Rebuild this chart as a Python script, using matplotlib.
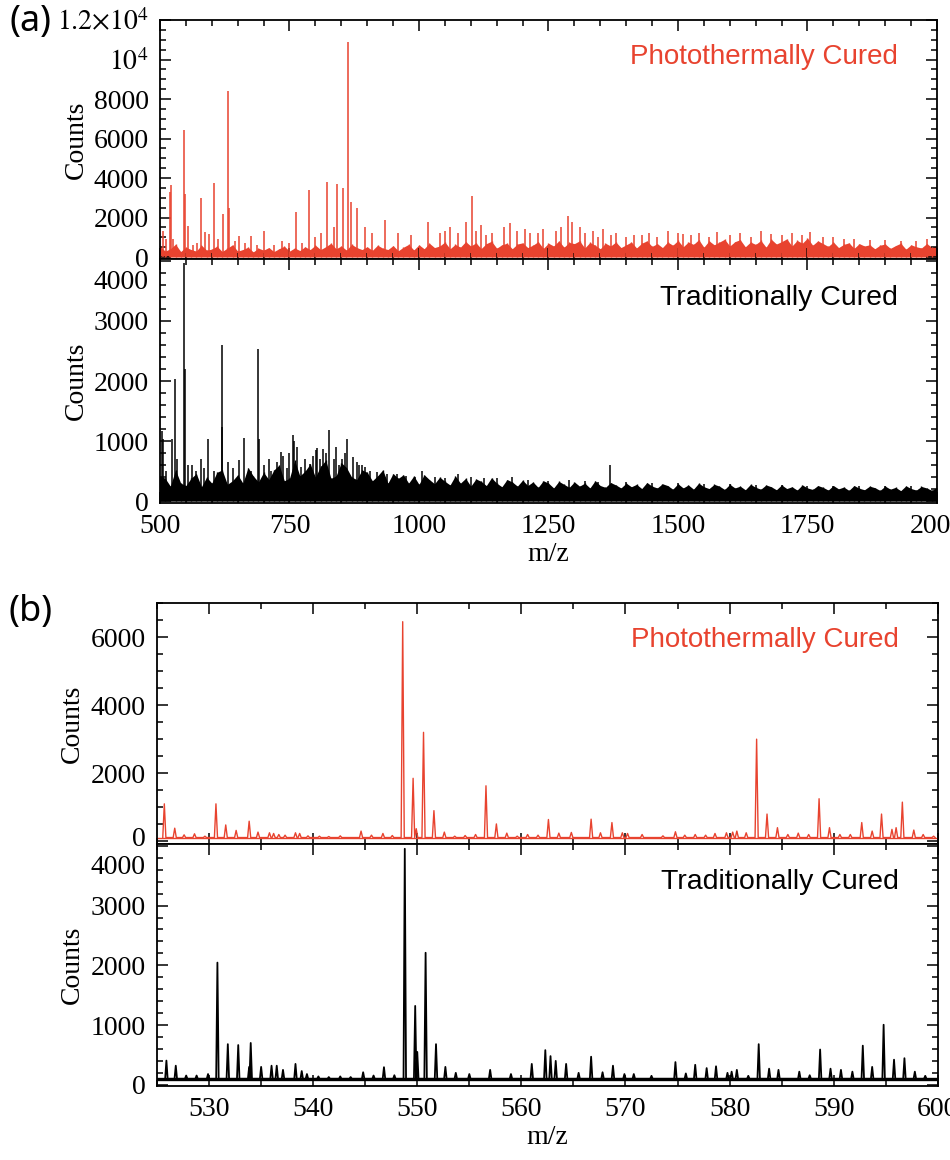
import numpy as np
import matplotlib
matplotlib.use("Agg")
import matplotlib.pyplot as plt
from matplotlib.ticker import MultipleLocator, FixedLocator, FixedFormatter
from matplotlib.transforms import ScaledTranslation

plt.rcParams['font.family'] = ['Liberation Serif', 'DejaVu Serif']
plt.rcParams['mathtext.fontset'] = 'stix'

RED = '#e8432f'

# ---- panel (a): full range, grass envelope every 10 m/z + main peaks ----
env_mz = list(range(500, 2001, 10))
env_red = [550, 300, 420, 650, 280, 500, 380, 300, 600, 350,
           400, 550, 280, 450, 620, 300, 380, 500, 260, 450,
           350, 480, 280, 420, 550, 300, 460, 330, 520, 380,
           600, 380, 520, 700, 420, 560, 350, 640, 480, 380,
           520, 340, 600, 450, 380, 580, 320, 500, 640, 360,
           620, 420, 700, 480, 560, 760, 420, 640, 500, 780,
           560, 720, 430, 680, 800, 450, 620, 700, 420, 660,
           720, 480, 600, 780, 440, 700, 560, 820, 500, 740,
           680, 820, 460, 740, 600, 420, 700, 560, 760, 480,
           620, 760, 460, 700, 820, 540, 680, 480, 760, 600,
           840, 520, 760, 640, 880, 500, 820, 620, 760, 900,
           560, 780, 880, 520, 760, 640, 840, 500, 900, 660,
           780, 920, 560, 840, 700, 960, 600, 820, 680, 540,
           760, 480, 640, 720, 440, 680, 560, 620, 420, 600,
           660, 440, 580, 700, 400, 620, 520, 460, 680, 500,
           560]
env_black = [420, 380, 250, 520, 300, 260, 380, 460, 240, 400,
             300, 480, 520, 280, 340, 440, 300, 560, 420, 320,
             480, 360, 520, 600, 340, 380, 680, 420, 500, 620,
             400, 580, 680, 380, 420, 640, 560, 400, 360, 520,
             480, 340, 420, 520, 300, 460, 380, 440, 300, 420,
             280, 440, 360, 290, 400, 330, 270, 420, 300, 380,
             250, 370, 330, 260, 390, 300, 240, 360, 320, 250,
             350, 260, 320, 230, 340, 300, 220, 330, 280, 230,
             320, 250, 300, 220, 340, 260, 230, 310, 270, 220,
             300, 240, 280, 210, 310, 250, 220, 290, 260, 200,
             290, 220, 270, 200, 300, 240, 210, 280, 250, 195,
             280, 220, 250, 190, 280, 230, 200, 270, 240, 190,
             270, 210, 240, 185, 270, 220, 195, 260, 230, 185,
             260, 205, 235, 180, 260, 215, 190, 250, 225, 180,
             250, 200, 230, 175, 255, 210, 185, 245, 220, 180,
             230]

pk_red_a_mz = [506, 512, 520, 522, 526, 547, 548.5, 555, 564, 572, 580, 587, 595,
               605, 612, 621, 631, 632.5, 645, 653, 665, 675, 688, 701, 720, 735,
               749, 762, 775, 788, 799, 810, 822, 835, 842, 853, 863, 868, 880,
               895, 910, 934, 960, 985, 1017, 1040, 1050, 1060, 1075, 1090, 1102,
               1110, 1120, 1130, 1140, 1165, 1175, 1190, 1205, 1215, 1230, 1240,
               1265, 1275, 1288, 1296, 1310, 1320, 1335, 1345, 1355, 1370, 1380,
               1400, 1415, 1430, 1445, 1460, 1480, 1500, 1510, 1525, 1540, 1560,
               1575, 1600, 1620, 1640, 1660, 1680, 1700, 1720, 1740, 1755, 1780,
               1800, 1820, 1840, 1870, 1900, 1930, 1960, 1980]
pk_red_a_h = [1300, 900, 3300, 3650, 900, 6450, 3200, 1550, 600, 700, 3000, 1250, 1150,
              3750, 900, 2200, 8400, 2500, 800, 1050, 700, 1050, 600, 1300, 600, 800,
              700, 2300, 700, 3400, 1000, 1200, 3800, 1500, 3700, 3500, 10900, 2800, 2500,
              1500, 1200, 1900, 1200, 1100, 1800, 1200, 1300, 1500, 1200, 1800, 3100,
              1300, 1600, 1100, 1200, 1500, 1700, 1300, 1400, 1200, 1200, 1400,
              1300, 1500, 2100, 1800, 1500, 1200, 1300, 1000, 1400, 1100, 1200,
              1000, 1100, 1100, 1200, 1000, 1300, 1200, 1150, 1100, 1200, 1000,
              1250, 1100, 1200, 1000, 1300, 1150, 1100, 1200, 1100, 1250, 1000,
              1000, 900, 900, 850, 850, 800, 800, 900]

pk_black_a_mz = [503, 505, 512, 522.5, 529, 532, 547, 549, 555, 561, 570, 580, 585, 593,
                 605, 619, 620.5, 632, 640, 653, 663, 675, 690, 691.5, 700, 710, 715,
                 725, 733.6, 738, 745, 750, 756, 759, 765, 773, 780, 790, 795, 801,
                 804, 808, 814, 820, 827, 835, 840, 846, 852, 858, 862, 872, 880, 885,
                 890, 896, 905, 918, 938, 957, 975, 992, 1005, 1030, 1050, 1075, 1100,
                 1125, 1150, 1180, 1210, 1250, 1290, 1320, 1345, 1369, 1400, 1450, 1500,
                 1550, 1600, 1650, 1700, 1750, 1800, 1850, 1900, 1950]
pk_black_a_h = [1160, 1030, 500, 1030, 2040, 710, 3960, 2200, 600, 600, 500, 700, 550, 1030,
                500, 2600, 1240, 650, 550, 680, 1050, 500, 2530, 1030, 600, 700, 500,
                650, 820, 750, 550, 800, 1100, 1000, 900, 570, 700, 620, 750, 850,
                880, 700, 875, 800, 1190, 700, 900, 600, 700, 800, 1030, 740, 650, 600,
                600, 575, 500, 490, 460, 460, 420, 410, 500, 400, 380, 450, 400,
                380, 380, 400, 350, 340, 360, 330, 320, 600, 320, 300, 300,
                280, 280, 270, 270, 260, 260, 250, 250, 250]

# ---- panel (b): 525-600 zoom, peak lists on a flat baseline ----
base_red_b = 110
base_black_b = 100
pk_red_b_mz = [525.7, 526.7, 527.6, 528.6, 529.6, 530.66, 531.6, 532.6, 533.85, 534.7,
               535.8, 536.2, 536.7, 537.3, 538.3, 538.7, 539.5, 540.6, 541.5, 542.6,
               544.6, 545.6, 546.7, 547.6, 548.6, 549.6, 549.9, 550.6, 551.6, 552.6,
               553.6, 554.6, 555.6, 556.6, 557.6, 558.6, 559.6, 560.6, 561.6, 562.6,
               563.6, 564.8, 566.7, 567.6, 568.7, 569.7, 570.2, 571.6, 573.6, 574.8,
               575.7, 576.7, 577.7, 578.6, 579.7, 580.3, 580.7, 581.6, 582.6, 583.6,
               584.6, 585.6, 586.6, 587.6, 588.6, 589.6, 590.6, 591.6, 592.7, 593.7,
               594.6, 595.6, 596.0, 596.6, 597.7, 598.6, 599.6]
pk_red_b_h = [1100, 385, 190, 220, 150, 1100, 480, 320, 590, 270,
              250, 230, 200, 180, 250, 230, 160, 150, 140, 160,
              300, 180, 230, 170, 6450, 1850, 370, 3200, 900, 270,
              150, 170, 200, 1630, 510, 240, 150, 200, 180, 640,
              240, 260, 650, 250, 550, 250, 230, 200, 160, 280,
              180, 200, 180, 230, 250, 270, 300, 250, 3000, 800,
              400, 200, 240, 200, 1250, 400, 200, 200, 550, 300,
              800, 350, 400, 1150, 330, 200, 150]

pk_black_b_mz = [525.9, 526.8, 527.8, 528.8, 529.9, 530.8, 531.8, 532.8, 533.85, 534.0,
                 535.0, 536.0, 536.5, 537.1, 538.3, 538.9, 539.4, 540.5, 541.5, 542.6,
                 543.6, 544.8, 545.8, 546.8, 547.8, 548.8, 549.8, 550.0, 550.8, 551.8,
                 552.7, 553.7, 555.0, 557.0, 559.0, 561.0, 562.3, 562.8, 563.3, 564.3,
                 565.5, 566.7, 567.8, 568.8, 569.9, 570.8, 572.5, 574.8, 575.8, 576.7,
                 577.8, 578.7, 579.8, 580.2, 580.7, 581.8, 582.8, 583.8, 584.7, 586.7,
                 587.7, 588.7, 589.7, 590.7, 591.8, 592.8, 593.7, 594.8, 595.8, 596.8,
                 597.8, 598.8]
pk_black_b_h = [405, 320, 155, 155, 180, 2045, 680, 665, 300, 700,
                300, 320, 320, 250, 350, 230, 180, 140, 130, 140,
                130, 210, 155, 295, 160, 3950, 1320, 550, 2210, 680,
                300, 200, 180, 250, 180, 350, 580, 480, 400, 350,
                200, 470, 210, 320, 180, 180, 150, 380, 190, 335,
                280, 310, 200, 220, 250, 150, 680, 270, 250, 220,
                160, 590, 270, 250, 220, 655, 300, 1005, 420, 445,
                220, 150]


def style_axes(ax, xmajor, xminor):
    ax.xaxis.set_major_locator(MultipleLocator(xmajor))
    ax.xaxis.set_minor_locator(MultipleLocator(xminor))
    ax.tick_params(which='both', direction='in', top=True, right=True,
                   labelsize=20, pad=8, width=1.1)
    ax.tick_params(which='major', length=8)
    ax.tick_params(which='minor', length=4)
    for s in ax.spines.values():
        s.set_linewidth(1.3)
    ax.set_ylabel('Counts', fontsize=20)
    ax.yaxis.set_label_coords(-0.092, 0.5)


def shift_label(fig, ax, idx, dy_px):
    lab = ax.get_yticklabels()[idx]
    lab.set_transform(lab.get_transform() +
                      ScaledTranslation(0, dy_px / 100, fig.dpi_scale_trans))


def sticks(ax, mz, h, base, w, color, lw):
    order = np.argsort(mz)
    xs, ys = [], []
    for i in order:
        xs += [mz[i] - w, mz[i], mz[i] + w]
        ys += [base, h[i], base]
    ax.plot(xs, ys, color=color, lw=lw)


fig = plt.figure(figsize=(9.5, 11.6), dpi=100)

# (a) top
ax1 = fig.add_axes([0.1684, 0.7767, 0.8179, 0.2060])
ax1.fill_between(env_mz, 0, env_red, color=RED, lw=0)
ax1.vlines(env_mz, 0, env_red, color=RED, lw=1.0)
ax1.vlines(pk_red_a_mz, 0, pk_red_a_h, color=RED, lw=1.1)
ax1.set_xlim(500, 2000)
ax1.set_ylim(-100, 12000)
style_axes(ax1, 250, 50)
ax1.yaxis.set_major_locator(FixedLocator([0, 2000, 4000, 6000, 8000, 10000, 12000]))
ax1.yaxis.set_major_formatter(FixedFormatter(['0', '2000', '4000', '6000', '8000',
                                              r'$10^4$', r'$1.2{\times}10^4$']))
ax1.yaxis.set_minor_locator(MultipleLocator(500))
ax1.tick_params(labelbottom=False)
ax1.text(0.95, 0.845, 'Photothermally Cured', transform=ax1.transAxes, color=RED,
         fontsize=20, family='Liberation Sans', ha='right', va='center')

# (a) bottom
ax2 = fig.add_axes([0.1684, 0.5664, 0.8179, 0.2103])
ax2.fill_between(env_mz, 0, env_black, color='black', lw=0)
ax2.vlines(env_mz, 0, env_black, color='black', lw=1.0)
ax2.vlines(pk_black_a_mz, 0, pk_black_a_h, color='black', lw=1.1)
ax2.set_xlim(500, 2000)
ax2.set_ylim(-30, 4030)
style_axes(ax2, 250, 50)
ax2.yaxis.set_major_locator(MultipleLocator(1000))
ax2.yaxis.set_minor_locator(MultipleLocator(200))
ax2.set_xlabel('m/z', fontsize=20, labelpad=2)
ax2.text(0.95, 0.84, 'Traditionally Cured', transform=ax2.transAxes, color='black',
         fontsize=20.5, family='Liberation Sans', ha='right', va='center')

# (b) top
ax3 = fig.add_axes([0.1653, 0.2724, 0.8218, 0.2078])
ax3.axhline(base_red_b, color=RED, lw=1.0)
sticks(ax3, pk_red_b_mz, pk_red_b_h, base_red_b, 0.15, RED, 1.0)
ax3.set_xlim(525, 600)
ax3.set_ylim(-80, 7000)
style_axes(ax3, 10, 5)
ax3.yaxis.set_major_locator(MultipleLocator(2000))
ax3.yaxis.set_minor_locator(MultipleLocator(500))
ax3.tick_params(labelbottom=False)
ax3.text(0.95, 0.846, 'Photothermally Cured', transform=ax3.transAxes, color=RED,
         fontsize=20, family='Liberation Sans', ha='right', va='center')

# (b) bottom
ax4 = fig.add_axes([0.1653, 0.0638, 0.8218, 0.2086])
ax4.axhline(base_black_b, color='black', lw=2.4)
sticks(ax4, pk_black_b_mz, pk_black_b_h, base_black_b, 0.12, 'black', 1.3)
ax4.set_xlim(525, 600)
ax4.set_ylim(-20, 4030)
style_axes(ax4, 10, 5)
ax4.yaxis.set_major_locator(MultipleLocator(1000))
ax4.yaxis.set_minor_locator(MultipleLocator(200))
ax4.set_xlabel('m/z', fontsize=20, labelpad=2)
ax4.text(0.95, 0.843, 'Traditionally Cured', transform=ax4.transAxes, color='black',
         fontsize=20.5, family='Liberation Sans', ha='right', va='center')

fig.canvas.draw()
# nudge the crowded labels where the stacked axes meet
for ax in (ax2, ax4):
    labs = [t.get_text() for t in ax.get_yticklabels()]
    shift_label(fig, ax, labs.index('4000'), -19)
labs = [t.get_text() for t in ax3.get_yticklabels()]
shift_label(fig, ax3, labs.index('0'), 5)

fig.text(0.032, 0.981, '(a)', fontsize=26, family='Noto Sans', ha='center', va='center')
fig.text(0.032, 0.472, '(b)', fontsize=26, family='Noto Sans', ha='center', va='center')

fig.savefig('out.png', dpi=100)
